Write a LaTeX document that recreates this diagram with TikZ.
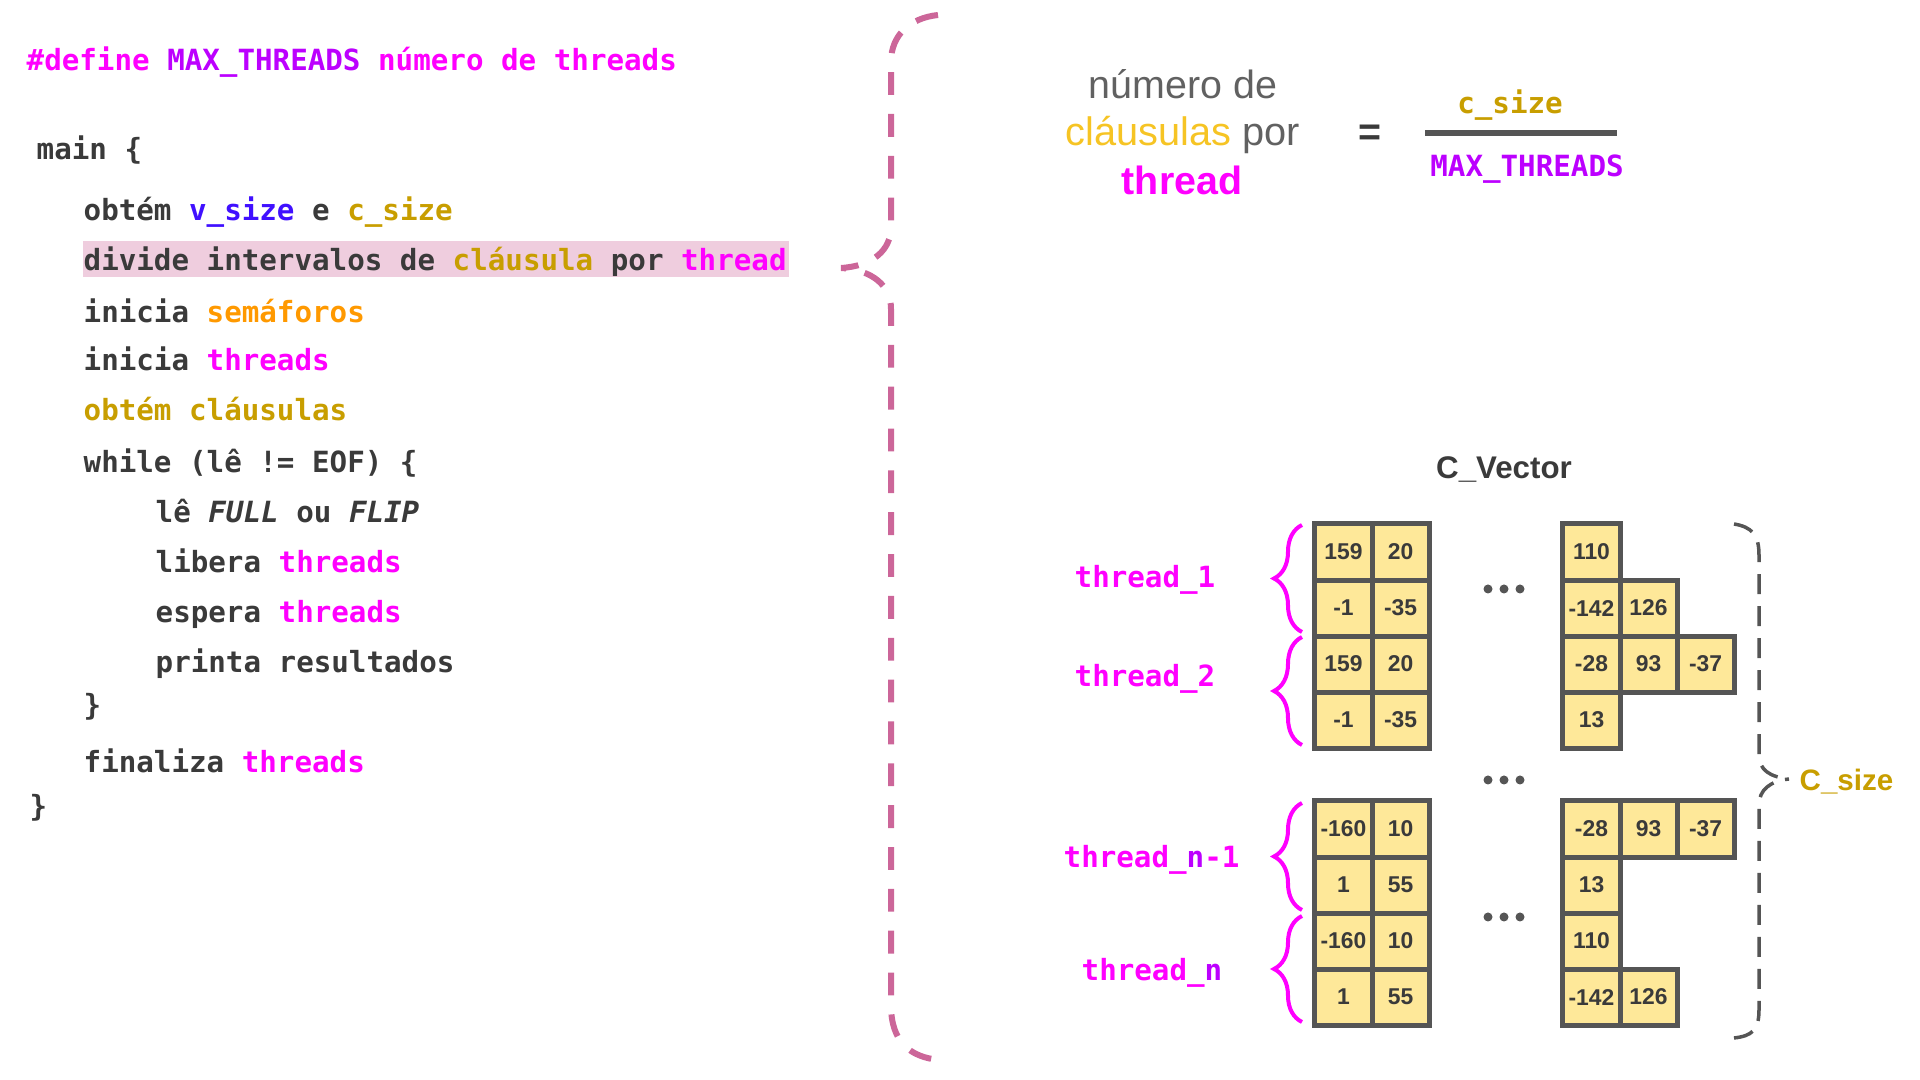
\documentclass[tikz,border=0pt]{standalone}
\usepackage{fontspec}
\setmainfont{Liberation Sans}
\setmonofont{DejaVu Sans Mono}
\usetikzlibrary{positioning,decorations.pathreplacing}

\definecolor{codegray}{RGB}{58,58,58}
\definecolor{thmag}{RGB}{255,0,255}
\definecolor{maxpurple}{RGB}{188,0,255}
\definecolor{vblue}{RGB}{64,16,255}
\definecolor{csgold}{RGB}{200,158,0}
\definecolor{semorange}{RGB}{255,153,0}
\definecolor{clyellow}{RGB}{246,196,36}
\definecolor{hlpink}{RGB}{239,205,222}
\definecolor{bracepink}{RGB}{204,102,153}
\definecolor{cellfill}{RGB}{254,232,153}
\definecolor{cellline}{RGB}{85,85,85}
\definecolor{txtgray}{RGB}{97,97,97}

\tikzset{
node distance=0pt, % the cells of a block touch each other
codeline/.style={anchor=base west, inner sep=0pt, text=codegray, font=\ttfamily\bfseries\fontsize{8.3}{10}\selectfont}, % one line of the pseudo code
vcell/.style={draw=cellline, fill=cellfill, line width=0.05cm, minimum width=0.57cm, minimum height=0.56cm, inner sep=0pt, outer sep=0pt, text=codegray, font=\bfseries\fontsize{6.5}{7}\selectfont}, % one clause value
thlabel/.style={anchor=base west, inner sep=0pt, text=thmag, font=\ttfamily\bfseries\fontsize{8.3}{10}\selectfont},
thbrace/.style={draw=thmag, line width=0.04cm, decorate, decoration={brace, amplitude=0.28cm}},
sizebrace/.style={cellline, line width=0.035cm, dash pattern=on 5.7pt off 3.4pt},
vdots/.style={fill=cellline},
}

\begin{document}
\begin{tikzpicture}[x=0.01cm, y=-0.01cm]
    \useasboundingbox (0,0) rectangle (1920,1080);

    % pseudo code
    \fill[hlpink] (83,241) rectangle (789,277);
    \node[codeline, text=thmag] (define) at (26,71) {\#define \textcolor{maxpurple}{MAX\_THREADS} número de threads};
    \node[codeline] (main) at (36,160) {main \{};
    \node[codeline] (getsize) at (83,221) {obtém \textcolor{vblue}{v\_size} e \textcolor{csgold}{c\_size}};
    \node[codeline] (divide) at (83,271) {divide intervalos de \textcolor{csgold}{cláusula} por \textcolor{thmag}{thread}};
    \node[codeline] (sems) at (83,323) {inicia \textcolor{semorange}{semáforos}};
    \node[codeline] (startth) at (83,371) {inicia \textcolor{thmag}{threads}};
    \node[codeline, text=csgold] (getcl) at (83,421) {obtém cláusulas};
    \node[codeline] (loop) at (83,473) {while (lê != EOF) \{};
    \node[codeline] (readff) at (155,523) {lê \textit{FULL} ou \textit{FLIP}};
    \node[codeline] (freeth) at (155,573) {libera \textcolor{thmag}{threads}};
    \node[codeline] (waitth) at (155,623) {espera \textcolor{thmag}{threads}};
    \node[codeline] (printres) at (155,673) {printa resultados};
    \node[codeline] (endloop) at (83,716) {\}};
    \node[codeline] (finth) at (83,773) {finaliza \textcolor{thmag}{threads}};
    \node[codeline] (endmain) at (29,817) {\}};

    % big brace
    \draw[bracepink, line width=0.06cm, dash pattern=on 6.5pt off 5.4pt]
        (938,15) .. controls (910,18) and (891,35) .. (891,62) -- (891,227)
        .. controls (891,250) and (873,266) .. (841,268)
        .. controls (873,270) and (891,286) .. (891,309) -- (891,1005)
        .. controls (891,1042) and (910,1057) .. (939,1060);

    % formula
    \node[anchor=base, text=txtgray, font=\fontsize{11.2}{13}\selectfont] (num) at (1183,99) {número de};
    \node[anchor=base, text=txtgray, font=\fontsize{11.3}{13}\selectfont] (clpor) at (1183,146) {\textcolor{clyellow}{cláusulas} por};
    \node[anchor=base, text=thmag, font=\bfseries\fontsize{11.2}{13}\selectfont] (thr) at (1182,195) {thread};
    \node[text=codegray, font=\bfseries\fontsize{11.2}{13}\selectfont] (eq) at (1370,135) {=};
    \node[codeline, anchor=base, text=csgold] (csz) at (1510,114) {c\_size};
    \draw[cellline, line width=0.06cm] (1425,133) -- (1617,133);
    \node[codeline, anchor=base, text=maxpurple] (maxth) at (1527,177) {MAX\_THREADS};

    % C_Vector
    \node[anchor=base, text=codegray, font=\bfseries\fontsize{8.9}{10}\selectfont] (cvec) at (1504,479) {C\_Vector};

    \node[vcell] (ta1) at (1343.5,552) {159};
    \node[vcell, right=of ta1] (ta2) {20};
    \node[vcell, below=of ta1] (ta3) {-1};
    \node[vcell, right=of ta3] (ta4) {-35};
    \node[vcell, below=of ta3] (tb1) {159};
    \node[vcell, right=of tb1] (tb2) {20};
    \node[vcell, below=of tb1] (tb3) {-1};
    \node[vcell, right=of tb3] (tb4) {-35};

    \node[vcell] (tc1) at (1343.5,829) {-160};
    \node[vcell, right=of tc1] (tc2) {10};
    \node[vcell, below=of tc1] (tc3) {1};
    \node[vcell, right=of tc3] (tc4) {55};
    \node[vcell, below=of tc3] (td1) {-160};
    \node[vcell, right=of td1] (td2) {10};
    \node[vcell, below=of td1] (td3) {1};
    \node[vcell, right=of td3] (td4) {55};

    \node[vcell] (ra1) at (1591.5,552) {110};
    \node[vcell, below=of ra1] (ra2) {-142};
    \node[vcell, right=of ra2] (ra3) {126};
    \node[vcell, below=of ra2] (ra4) {-28};
    \node[vcell, right=of ra4] (ra5) {93};
    \node[vcell, right=of ra5] (ra6) {-37};
    \node[vcell, below=of ra4] (ra7) {13};

    \node[vcell] (rb1) at (1591.5,829) {-28};
    \node[vcell, right=of rb1] (rb2) {93};
    \node[vcell, right=of rb2] (rb3) {-37};
    \node[vcell, below=of rb1] (rb4) {13};
    \node[vcell, below=of rb4] (rb5) {110};
    \node[vcell, below=of rb5] (rb6) {-142};
    \node[vcell, right=of rb6] (rb7) {126};

    % thread braces
    \draw[thbrace] (1302,632) -- (1302,525);
    \draw[thbrace] (1302,745) -- (1302,637);
    \draw[thbrace] (1302,910) -- (1302,803);
    \draw[thbrace] (1302,1022) -- (1302,916);
    \node[thlabel] (th1) at (1074,588) {thread\_1};
    \node[thlabel] (th2) at (1074,687) {thread\_2};
    \node[thlabel] (thn1) at (1063,868) {thread\_\textcolor{maxpurple}{n}-1};
    \node[thlabel] (thn) at (1081,981) {thread\_\textcolor{maxpurple}{n}};

    \fill[vdots] (1488,589) circle (0.045cm) (1504,589) circle (0.045cm) (1520,589) circle (0.045cm);
    \fill[vdots] (1488,780) circle (0.045cm) (1504,780) circle (0.045cm) (1520,780) circle (0.045cm);
    \fill[vdots] (1488,917) circle (0.045cm) (1504,917) circle (0.045cm) (1520,917) circle (0.045cm);

    % C_size brace, both halves start at their hook
    \draw[sizebrace]
        (1734,524) .. controls (1752,527) and (1759,535) .. (1759,555) -- (1759,755)
        .. controls (1759,770) and (1770,777) .. (1789,779);
    \draw[sizebrace]
        (1734,1038) .. controls (1752,1036) and (1759,1030) .. (1759,1010) -- (1759,805)
        .. controls (1759,790) and (1770,781) .. (1789,779);
    \node[anchor=base west, inner sep=0pt, text=csgold, font=\bfseries\fontsize{8.4}{10}\selectfont] (csize) at (1799,791) {C\_size};
\end{tikzpicture}
\end{document}
